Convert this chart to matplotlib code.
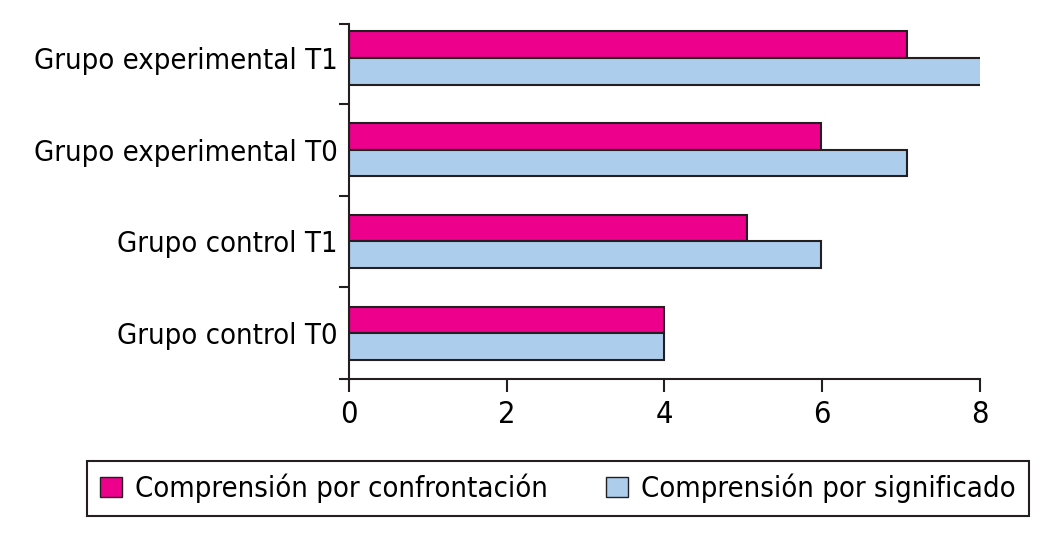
import numpy as np
import matplotlib.pyplot as plt
from matplotlib.patches import Patch

grupos = ['Grupo control T0', 'Grupo control T1', 'Grupo experimental T0', 'Grupo experimental T1']
confrontacion = [4.0, 5.05, 5.98, 7.07]
significado = [4.0, 5.98, 7.07, 8.05]
xticks = [0, 2, 4, 6, 8]

plt.rcParams['font.family'] = ['DejaVu Sans']
plt.rcParams['font.stretch'] = 'condensed'

rosa = '#EC008C'
azul = '#ADCDEC'
borde = '#231F20'

fig = plt.figure(figsize=(10.54, 5.33), dpi=100)
ax = fig.add_axes([0.3311, 0.2889, 0.5987, 0.666])

y = np.arange(len(grupos))
h = 0.29
ax.barh(y + h/2, confrontacion, height=h, color=rosa, edgecolor=borde, linewidth=1.5)
ax.barh(y - h/2, significado, height=h, color=azul, edgecolor=borde, linewidth=1.5)

top = len(grupos) - 0.63
ax.set_xlim(0, 8)
ax.set_ylim(-0.5, top)
ax.set_xticks(xticks)
ax.set_xticklabels([str(t) for t in xticks], fontsize=22)

# ticks at boundaries, labels at centres
ax.set_yticks(list(np.arange(-0.5, len(grupos) - 1)) + [top], minor=False)
ax.set_yticklabels([])
ax.set_yticks(y, minor=True)
ax.set_yticklabels(grupos, minor=True, fontsize=21)
ax.tick_params(axis='y', which='minor', length=0, pad=8)
ax.tick_params(axis='y', which='major', length=7, width=1.5, color=borde)
ax.tick_params(axis='x', length=9, width=1.5, color=borde, pad=6)

for s in ['top', 'right']:
    ax.spines[s].set_visible(False)
for s in ['left', 'bottom']:
    ax.spines[s].set_linewidth(1.5)
    ax.spines[s].set_color(borde)

handles = [Patch(facecolor=rosa, edgecolor=borde, label='Comprensión por confrontación'),
           Patch(facecolor=azul, edgecolor=borde, label='Comprensión por significado')]
leg = fig.legend(handles=handles, loc='center', bbox_to_anchor=(0.529, 0.0835), ncol=2,
                 fontsize=21, frameon=True, fancybox=False, edgecolor=borde, framealpha=1,
                 handlelength=0.75, handleheight=0.72, handletextpad=0.45, columnspacing=2.0,
                 borderpad=0.45, borderaxespad=0)
leg.get_frame().set_linewidth(1.5)

fig.savefig('out.png', dpi=100)
